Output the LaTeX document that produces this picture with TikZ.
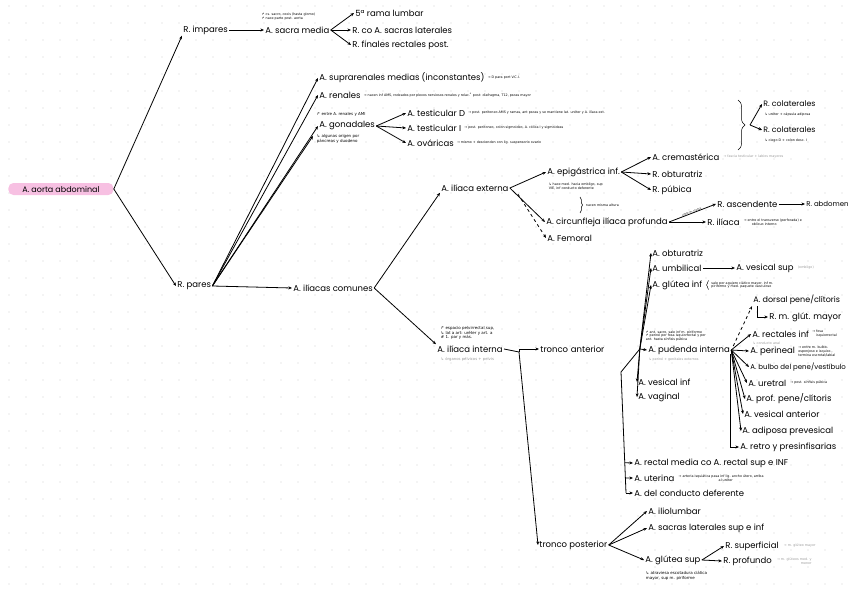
\documentclass[tikz,border=0pt]{standalone}
\usepackage{fontspec}
\setmainfont{Poppins}
\newfontfamily\notefont{DejaVu Sans}
\usepackage{tikz}
\usetikzlibrary{arrows.meta,calc,positioning,decorations.pathreplacing}
\definecolor{aortapink}{RGB}{247,192,226}

\begin{document}
\begin{tikzpicture}[x=1pt,y=-1pt,->,>={Stealth[length=3.6pt,width=3pt]},line width=0.8pt]
        \tikzstyle{lbl} = [anchor=west, inner sep=1pt, font=\fontsize{8.5}{9}\selectfont]
        \tikzstyle{note} = [anchor=west, inner sep=0.5pt, align=left, font=\notefont\fontsize{3.3}{3.9}\selectfont]
        \tikzstyle{bnote} = [note, font=\notefont\fontsize{4}{4.8}\selectfont]
        \tikzstyle{gnote} = [note, text=black!40]
        \tikzstyle{brc} = [-, line width=0.5pt, decorate, decoration={brace, amplitude=#1}]

        \useasboundingbox (0,0) rectangle (848,599);
        % dotted paper
        \foreach \gx in {9,26,...,848}
          \foreach \gy in {6,23,...,599}
            \fill[-, black!18] (\gx,\gy) circle (0.55);

        % Nodes
        \node[lbl, font=\fontsize{8}{9}\selectfont, fill=aortapink, rounded corners=5pt, minimum width=105pt, minimum height=12pt, inner xsep=4pt] (aorta) at (8,189) {A. aorta abdominal};
        \node[lbl] (imp) at (182,30) {R. impares};
        \node[lbl] (par) at (176,286) {R. pares};

        \node[lbl] (sacra) at (264,30) {A. sacra media};
        \node[note] (nsac) at (261,17) {↱ cs. sacro, coxis (hasta glomo)\\↱ nace parte post. aorta};
        \node[lbl] (lumb) at (354,13) {5ª rama lumbar};
        \node[lbl] (sacl) at (351,30) {R. co A. sacras laterales};
        \node[lbl] (rfin) at (351,45) {R. finales rectales post.};

        \node[lbl] (supr) at (318,78) {A. suprarenales medias (inconstantes)};
        \node[note, right=1pt of supr] (nsupr) {→ D para port V.C.I.};
        \node[lbl] (ren) at (318,95) {A. renales};
        \node[note, right=1pt of ren] (nren) {→ nacen inf AMS, rodeados por plexos nerviosos renales y relac.\textsuperscript{o} post: diafragma, T12, psoas mayor};
        \node[lbl] (gon) at (318,126) {A. gonadales};
        \node[bnote] (ngon1) at (316,114) {↱ entre A. renales y AMI};
        \node[bnote] (ngon2) at (316,139) {↳ algunas origen por\\páncreas y duodeno};
        \coordinate (g4) at (313,136);

        \node[lbl] (tesd) at (406,113) {A. testicular D};
        \node[note, right=1pt of tesd] {→ post. peritoneo AMS y ramas, ant psoas y se mantiene lat. uréter y A. ilíaca ext.};
        \node[lbl] (tesi) at (406,128) {A. testicular I};
        \node[note, right=1pt of tesi] {→ post. peritoneo, colon sigmoideo, A. cólica I y sigmoideas};
        \node[lbl] (ovar) at (406,143) {A. ováricas};
        \node[note, right=1pt of ovar] {→ mismo + descienden con lig. suspensorio ovario};

        \coordinate (btip) at (750,125);
        \node[lbl, font=\fontsize{7.8}{9}\selectfont] (col1) at (762,104) {R. colaterales};
        \node[note] at (764,115) {↳ uréter + cápsula adiposa};
        \node[lbl, font=\fontsize{7.8}{9}\selectfont] (col2) at (762,130) {R. colaterales};
        \node[note] at (764,141) {↳ ciego D + colon desc. I};

        \node[lbl] (com) at (292,288) {A. ilíacas comunes};
        \node[lbl] (ext) at (440,188) {A. ilíaca externa};
        \node[lbl] (int) at (436,349) {A. ilíaca interna};
        \node[bnote] at (440,333) {↱ espacio pelvirrectal sup,\\↳ lat a art: uréter y art. a\\\# 1. par y más.};
        \node[gnote, font=\notefont\fontsize{3.8}{4.4}\selectfont] at (440,359) {↳ órganos pélvicos + pelvis};

        \node[lbl] (epi) at (546,172) {A. epigástrica inf.};
        \node[note] at (548,186) {↳ hace med. hacia ombligo, sup\\VIE, inf conducto deferente};
        \node[note] at (585,205) {nacen misma altura};
        \node[lbl] (circ) at (545,222) {A. circunfleja ilíaca profunda};
        \node[lbl] (fem) at (546,238) {A. Femoral};
        \node[lbl] (crem) at (651,157) {A. cremastérica};
        \node[gnote, right=2pt of crem] {→ fascia testicular + labios mayores};
        \node[lbl] (robt) at (651,174) {R. obturatriz};
        \node[lbl] (pub) at (651,190) {R. púbica};
        \node[lbl] (asc) at (716,204) {R. ascendente};
        \node[lbl, font=\fontsize{7}{8}\selectfont] (abd) at (805,204) {R. abdomen};
        \node[lbl] (rili) at (706,222) {R. ilíaca};
        \node[note, right=2pt of rili] {→ entre el transverso (perforada) e\\\hspace*{8pt}oblicuo interno};

        \node[lbl, text width=98pt] (tant) at (539,349) {tronco anterior};
        \node[lbl] (obt) at (651,253) {A. obturatriz};
        \node[lbl] (umb) at (651,268) {A. umbilical};
        \node[lbl] (vsup) at (735,268) {A. vesical sup};
        \node[gnote, right=2pt of vsup] {(ombligo)};
        \node[lbl] (gin) at (651,285) {A. glútea inf};
        \node[note, right=7pt of gin] (ngin) {sale por agujero ciático mayor, inf m.\\piriforme y med. paquete vasculoso};
        \node[lbl] (pud) at (647,350) {A. pudenda interna};
        \node[note] at (645,336) {↱ ant. sacro, sale inf m. piriforme\\↱ periné por fosa isquiorrectal y por\\ant. hasta sínfisis púbica};
        \node[gnote] at (648,360) {↳ periné + genitales externos};
        \node[lbl] (vinf) at (637,382) {A. vesical inf};
        \node[lbl] (vag) at (637,397) {A. vaginal};
        \node[lbl] (rmed) at (633,463) {A. rectal media co A. rectal sup e INF};
        \node[lbl] (ute) at (633,478) {A. uterina};
        \node[note, right=2pt of ute] {→ arteria isquiática pasa inf lig. ancho útero, arriba\\\hspace*{40pt}al uréter};
        \node[lbl] (defe) at (633,493) {A. del conducto deferente};
        \coordinate (tm) at (621,372);
        \coordinate (tb) at (626,493);

        \node[lbl, font=\fontsize{8}{9}\selectfont] (dors) at (752,300) {A. dorsal pene/clítoris};
        \node[lbl] (rglu) at (768,317) {R. m. glút. mayor};
        \node[lbl] (rinf) at (751,334) {A. rectales inf};
        \node[note, right=1pt of rinf] {→ fosa\\\hspace*{4pt}isquiorrectal};
        \node[gnote] at (752,343) {↳ conducto anal};
        \node[lbl] (per) at (749,351) {A. perineal};
        \node[note, right=1pt of per] {→ entre m. bulbo-\\esponjoso e isquioc.,\\termina escrotal/labial};
        \node[lbl, font=\fontsize{7}{8}\selectfont] (bul) at (749,367) {A. bulbo del pene/vestíbulo};
        \node[lbl] (ure) at (747,383) {A. uretral};
        \node[note, right=2pt of ure] {→ post. sínfisis púbica};
        \node[lbl] (prof) at (745,399) {A. prof. pene/clítoris};
        \node[lbl] (vant) at (743,414) {A. vesical anterior};
        \node[lbl] (adip) at (741,431) {A. adiposa prevesical};
        \node[lbl] (retr) at (739,447) {A. retro y presinfisarias};

        \node[lbl] (tpos) at (538,545) {tronco posterior};
        \node[lbl] (ilio) at (647,511) {A. iliolumbar};
        \node[lbl] (sacs) at (647,528) {A. sacras laterales sup e inf};
        \node[lbl] (gsup) at (644,560) {A. glútea sup};
        \node[bnote] at (645,576) {↳ atraviesa escotadura ciática\\mayor, sup m. piriforme};
        \node[lbl] (rsup) at (724,546) {R. superficial};
        \node[gnote, right=3pt of rsup] {→ m. glúteo mayor};
        \node[lbl] (rpro) at (722,561) {R. profundo};
        \node[gnote, right=3pt of rpro, align=right] {→ m. glúteos med. y\\menor};

        % Edges
        \draw (aorta.east) -- (imp.south west);
        \draw (aorta.east) -- (par.west);
        \draw (imp.east) -- (sacra.west);
        \foreach \t in {lumb,sacl,rfin} \draw (sacra.east) -- (\t.west);

        \foreach \t in {supr,ren,gon} \draw (par.east) -- (\t.west);
        \draw (par.east) -- (g4);
        \draw (par.east) -- (com.west);
        \foreach \t in {tesd,tesi,ovar} \draw (gon.east) -- (\t.west);
        \draw[brc=7pt] (738,100) -- (738,150);
        \draw (btip) -- (col1.west);
        \draw (btip) -- (col2.west);

        \draw (com.east) -- (ext.south west);
        \draw (com.east) -- (int.north west);
        \draw (ext.east) -- (epi.west);
        \draw (ext.east) -- (circ.west);
        \draw[dashed] ($(ext.east)+(8,6)$) -- (fem.west);
        \foreach \t in {crem,robt,pub} \draw (epi.east) -- (\t.west);
        \draw[brc=2.5pt] (580,197) -- (580,213);
        \draw (circ.east) -- (asc.west)
          node[midway, sloped, above=-0.5pt, note, anchor=south, font=\notefont\fontsize{2.6}{3}\selectfont] {entre m. transv.};
        \draw (circ.east) -- (rili.west);
        \draw (asc.east) -- (abd.west);

        \coordinate (ij) at (519,352);
        \draw[-] (int.east) -- (ij);
        \draw (ij) |- (tant.west);
        \draw (ij) -- (tpos.west);

        \foreach \t in {obt,umb,gin,pud,vinf,vag} \draw (tant.east) -- (\t.west);
        \draw (umb.east) -- (vsup.west);
        \draw[brc=2pt] ($(ngin.south west)+(-2,0)$) -- ($(ngin.north west)+(-2,0)$);
        \draw[-] (tant.east) -- (tm) -- (tb);
        \draw ($(tm)!0.75!(tb)$) -- (rmed.west);
        \draw ($(tm)!0.876!(tb)$) -- (ute.west);
        \draw (tb) -- (defe.west);

        \draw[dashed] ($(pud.east)+(2,-4)$) -- (dors.south west);
        \draw ($(dors.south west)+(5,0)$) |- (rglu.west);
        \foreach \t in {rinf,per,bul,ure,prof,vant,adip} \draw (pud.east) -- (\t.west);
        \draw ($(pud.east)+(-1,4)$) |- (retr.west);

        \foreach \t in {ilio,sacs,gsup} \draw (tpos.east) -- (\t.west);
        \draw (gsup.east) -- (rsup.west);
        \draw (gsup.east) -- (rpro.west);
\end{tikzpicture}
\end{document}
